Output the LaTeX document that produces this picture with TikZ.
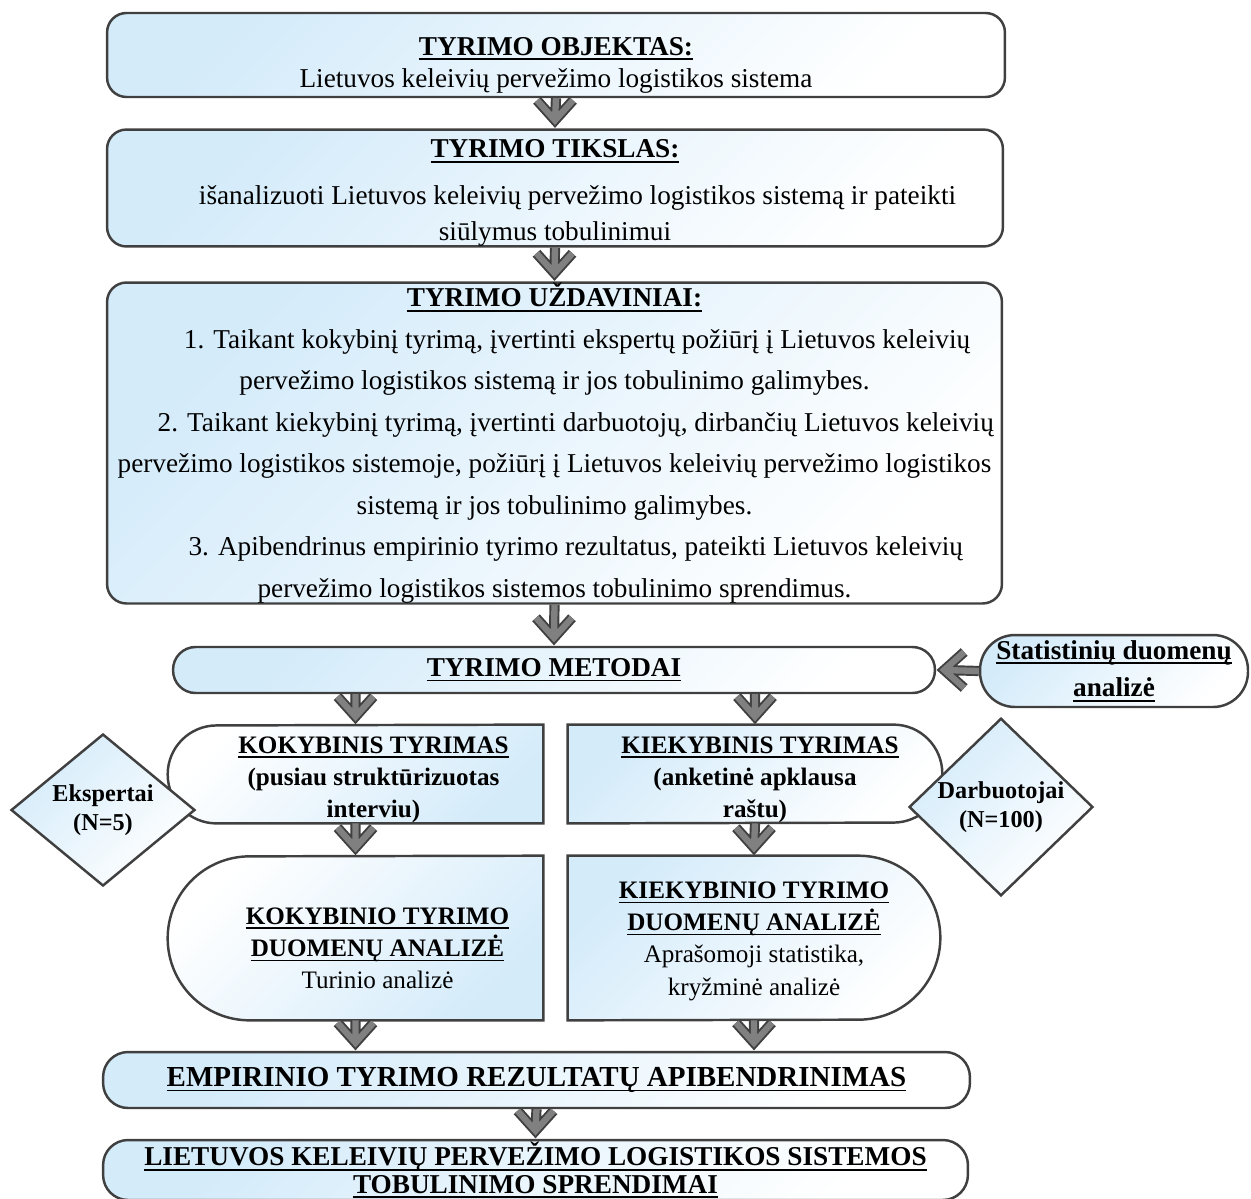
\documentclass[tikz,border=0pt]{standalone}
\usepackage{fontspec}
\setmainfont{Liberation Serif}
\usepackage{tikz}
\usetikzlibrary{calc,backgrounds,shapes.geometric}
\definecolor{edge}{HTML}{404040}
\definecolor{sky}{HTML}{D4EBFA}
\definecolor{arrfill}{HTML}{808080}
\definecolor{arrline}{HTML}{404040}
\newsavebox{\undlbox}
\newcommand{\undl}[1]{\sbox{\undlbox}{#1}\rlap{\rule[-2.8pt]{\wd\undlbox}{0.9pt}}\usebox{\undlbox}}
\tikzset{
  box/.style={draw=edge, line width=1.4pt, inner sep=0pt, align=center, font=\fontsize{15.5}{23.6}\selectfont},
  plain/.style={inner sep=0pt, align=center, font=\fontsize{14.3}{18.4}\selectfont},
  dia/.style={diamond, draw=edge, line width=1.4pt, inner sep=0pt, align=center, minimum width=3.68cm, minimum height=2.84cm, font=\bfseries\fontsize{13.8}{16.5}\selectfont},
  shTL/.style={top color=sky, middle color=white!85!sky, bottom color=white, shading angle=45},
  shBR/.style={top color=white, middle color=white!85!sky, bottom color=sky, shading angle=45},
  dshape/.style={draw=edge, line width=1.4pt},
  blk/.style={draw=arrfill, line width=3.6pt, line join=miter, preaction={draw=arrline, line width=5.8pt, line join=miter}},
  todown/.style={to path={-- ($(\tikztotarget)+(0,-8)$) ++(-18,-20) -- ++(18,20) -- ++(18,-20)}},
  toleft/.style={to path={-- ($(\tikztotarget)+(8,0)$) ++(20,-18) -- ++(-20,18) -- ++(20,18)}},
}
\begin{document}
\begin{tikzpicture}[x=0.02cm, y=-0.02cm]
  \useasboundingbox (0,0) rectangle (1251,1198);

  % main column
  \node[box, shTL, rounded corners=11pt, minimum width=17.96cm, minimum height=1.68cm] (obj) at (556,55)
    {\rule{0pt}{22pt}\undl{\textbf{TYRIMO OBJEKTAS:}}\\[-5pt] Lietuvos keleivių pervežimo logistikos sistema};
  \node[box, shTL, rounded corners=11pt, minimum width=17.92cm, minimum height=2.16cm] (tik) at (555,188)
    {\rule{0pt}{16pt}\undl{\textbf{TYRIMO TIKSLAS:}}\\[3pt]
     \hspace*{0.9cm}išanalizuoti Lietuvos keleivių pervežimo logistikos sistemą ir pateikti\\[-3pt]
     siūlymus tobulinimui};
  \node[box, shTL, rounded corners=11pt, minimum width=17.9cm, minimum height=6.42cm] (uzd) at (554.5,443)
    {\undl{\textbf{TYRIMO UŽDAVINIAI:}}\\
     \hspace*{0.9cm}1. Taikant kokybinį tyrimą, įvertinti ekspertų požiūrį į Lietuvos keleivių\\
     pervežimo logistikos sistemą ir jos tobulinimo galimybes.\\
     \hspace*{0.85cm}2. Taikant kiekybinį tyrimą, įvertinti darbuotojų, dirbančių Lietuvos keleivių\\
     pervežimo logistikos sistemoje, požiūrį į Lietuvos keleivių pervežimo logistikos\\
     sistemą ir jos tobulinimo galimybes.\\
     \hspace*{0.85cm}3. Apibendrinus empirinio tyrimo rezultatus, pateikti Lietuvos keleivių\\
     pervežimo logistikos sistemos tobulinimo sprendimus.};
  \node[box, shTL, rounded corners=0.45cm, minimum width=15.24cm, minimum height=0.92cm] (met) at (554,670)
    {\undl{\textbf{TYRIMO METODAI}}};
  \node[box, shTL, rounded corners=0.7cm, minimum width=5.36cm, minimum height=1.44cm] (stat) at (1114,671)
    {\undl{\textbf{Statistinių duomenų}}\\[-2pt]\undl{\textbf{analizė}}};

  % two branches
  \node[plain, font=\bfseries\fontsize{14.3}{18.4}\selectfont, minimum width=7.5cm, minimum height=1.96cm] (kok) at (355.5,774)
    {\rule{0pt}{16pt}\hspace*{0.72cm}\undl{KOKYBINIS TYRIMAS}\\ \hspace*{0.72cm}(pusiau struktūrizuotas\\ \hspace*{0.72cm}interviu)};
  \node[plain, font=\bfseries\fontsize{14.3}{18.4}\selectfont, minimum width=7.48cm, minimum height=1.96cm] (kie) at (755,774)
    {\rule{0pt}{16pt}\hspace*{0.2cm}\undl{KIEKYBINIS TYRIMAS}\\ (anketinė apklausa\\ raštu)};
  \node[plain, minimum width=7.5cm, minimum height=3.28cm] (koka) at (355.5,938)
    {\rule{0pt}{21pt}\hspace*{0.88cm}\undl{\textbf{KOKYBINIO TYRIMO}}\\ \hspace*{0.88cm}\undl{\textbf{DUOMENŲ ANALIZĖ}}\\ \hspace*{0.88cm}Turinio analizė};
  \node[plain, minimum width=7.44cm, minimum height=3.28cm] (kiea) at (754,938)
    {\rule{0pt}{13pt}\undl{\textbf{KIEKYBINIO TYRIMO}}\\ \undl{\textbf{DUOMENŲ ANALIZĖ}}\\ Aprašomoji statistika,\\ kryžminė analizė};

  \begin{scope}[on background layer]
    \draw[dshape, shBR] (kok.north east) -- (kok.south east) -- ([xshift=0.98cm]kok.south west)
      arc[start angle=90, end angle=270, radius=49] -- cycle;
    \draw[dshape, shTL] (kie.north west) -- ([xshift=-0.98cm]kie.north east)
      arc[start angle=270, end angle=450, radius=49] -- (kie.south west) -- cycle;
    \draw[dshape, shBR] (koka.north east) -- (koka.south east) -- ([xshift=1.64cm]koka.south west)
      arc[start angle=90, end angle=270, radius=82] -- cycle;
    \draw[dshape, shTL] (kiea.north west) -- ([xshift=-1.64cm]kiea.north east)
      arc[start angle=270, end angle=450, radius=82] -- (kiea.south west) -- cycle;
  \end{scope}

  \node[dia, shTL] (eks) at (103,810) {Ekspertai\\(N=5)};
  \node[dia, shTL] (dar) at (1001,807) {Darbuotojai\\(N=100)};

  % bottom
  \node[box, shTL, rounded corners=0.5cm, minimum width=17.34cm, minimum height=1.12cm, font=\fontsize{16.5}{20}\selectfont] (emp) at (536.5,1080)
    {\undl{\textbf{EMPIRINIO TYRIMO REZULTATŲ APIBENDRINIMAS}}};
  \node[box, shTL, rounded corners=0.5cm, minimum width=17.3cm, minimum height=1.2cm] (lie) at (535.5,1170)
    {\undl{\textbf{LIETUVOS KELEIVIŲ PERVEŽIMO LOGISTIKOS SISTEMOS}}\\[-8pt]\undl{\textbf{TOBULINIMO SPRENDIMAI}}};

  \coordinate (empL) at (emp.north -| koka.south);
  \coordinate (empR) at (emp.north -| kiea.south);

  % arrows
  \draw[blk] (obj.south) to[todown] (tik.north);
  \draw[blk] (tik.south) to[todown] (uzd.north);
  \draw[blk] (uzd.south) to[todown] (met.north);
  \draw[blk] (stat.west) to[toleft] (met.east);
  \draw[blk] (met.south -| kok.north) to[todown] (kok.north);
  \draw[blk] (met.south -| kie.north) to[todown] (kie.north);
  \draw[blk] (kok.south) to[todown] (koka.north);
  \draw[blk] (kie.south) to[todown] (kiea.north);
  \draw[blk] (koka.south) to[todown] (empL);
  \draw[blk] (kiea.south) to[todown] (empR);
  \draw[blk] (emp.south) to[todown] (lie.north);
\end{tikzpicture}
\end{document}
